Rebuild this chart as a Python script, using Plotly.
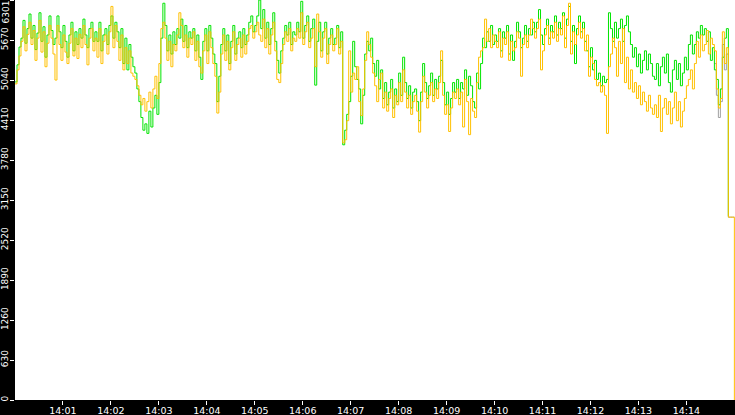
import pandas as pd
import plotly.graph_objects as go

# tick-by-tick quotes, one sample every 2.5 s from 14:00:00
START = "2024-01-01 14:00:00"
STEP = "2500ms"

GREEN = [
    5010, 5280, 5560, 5700, 5980, 5620, 5850, 6080, 5700, 5900, 5520, 5780, 6100, 5650, 5880, 5400, 5750, 6050, 5820, 5600,
    5700, 6050, 5800, 5550, 5900, 5650, 5400, 5750, 5950, 5500, 5800, 5600, 5850, 5700, 6000, 5750, 5550, 5850, 5950, 5650,
    5800, 5650, 5950, 5500, 5750, 5850, 5600, 5900, 6050, 5700, 5950, 5800, 5550, 5850, 5300, 5700, 5200, 5600, 5400, 5250,
    5150, 4900, 4700, 4450, 4250, 4350, 4200, 4550, 4300, 4600, 4800, 4500, 5000, 5700, 6250, 5900, 5500, 5750, 5450, 5800,
    5600, 5850, 5700, 6000, 5650, 5900, 5550, 5800, 5700, 5850, 5500, 5750, 5400, 5050, 5650, 5850, 5500, 5900, 5700, 5450,
    5300, 4700, 5100, 5600, 5850, 5500, 5750, 5300, 5650, 5900, 5450, 5700, 5800, 5550, 5850, 5600, 5750, 5950, 6050, 5800,
    5900, 6050, 6300, 5850, 6150, 5700, 5950, 5600, 5850, 6100, 5650, 5350, 5150, 5500, 5700, 5900, 5750, 5950, 5600, 5800,
    5750, 5950, 5800, 6280, 5700, 5900, 6050, 5650, 5850, 6000, 4960, 5650, 5950, 5500, 5800, 5950, 5450, 5700, 5850, 5600,
    5700, 5900, 5550, 5800, 4020, 4250, 4500, 4700, 5100, 5650, 5250, 5050, 4900, 4350, 4800, 5450, 5650, 5500, 5700, 5300,
    5100, 5350, 4900, 5200, 4750, 5000, 4650, 4850, 5050, 4600, 4900, 4700, 5150, 4800, 5400, 5000, 4750, 4950, 4600, 4850,
    4900, 4700, 4400, 4850, 5300, 5000, 4750, 4950, 5150, 4800, 5050, 4900, 5100, 5350, 5000, 4650, 4850, 4500, 4750, 5000,
    4850, 5050, 4750, 5000, 4900, 5200, 4800, 5100, 4950, 4700, 4600, 5150, 4900, 5300, 5700, 5550, 5800, 5650, 5900, 5600,
    5750, 5650, 5850, 5500, 5800, 5700, 5900, 5450, 5750, 5350, 5650, 5950, 5800, 5550, 5700, 5900, 5650, 5850, 5750, 5950,
    5800, 5950, 6150, 5750, 5600, 5850, 6000, 5700, 5900, 5800, 6050, 5750, 5950, 5850, 6100, 5700, 6000, 6200, 5650, 5900,
    5300, 5850, 6050, 5800, 5950, 5650, 5500, 5250, 5550, 5200, 5350, 5050, 5150, 4950, 5100, 5000, 5050, 6100, 5850, 5650,
    5950, 5700, 5850, 6000, 5650, 5900, 6050, 5800, 5600, 5400, 5550, 5250, 5450, 5150, 5350, 5500, 5200, 5450, 5300, 5100,
    5050, 5300, 4950, 5250, 5400, 5150, 5450, 5000, 4850, 5200, 5350, 5050, 5300, 4950, 5150, 5400, 5200, 5600, 5750, 5450,
    5600, 5800, 5700, 5900, 5750, 5850, 5650, 5800, 5350, 5550, 5200, 5050, 4650, 4900, 5400, 5700, 5850, 2900,
]

YELLOW = [
    4980, 5200, 5420, 5650, 5880, 5500, 5760, 5950, 5600, 5820, 5350, 5700, 5980, 5480, 5800, 5250, 5620, 5900, 5700, 5450,
    5040, 5900, 5600, 5350, 5750, 5480, 5300, 5620, 5850, 5420, 5700, 5380, 5760, 5550, 5900, 5600, 5280, 5700, 5850, 5500,
    5700, 5400, 5850, 5300, 5650, 5750, 5450, 5800, 6200, 5550, 5900, 5650, 5350, 5750, 5200, 5550, 5300, 5500, 5150, 5100,
    5050, 4950, 4800, 4650, 4750, 4550, 4700, 4850, 4600, 4900, 5100, 4750, 5300, 5850, 5950, 5700, 5350, 5650, 5250, 5600,
    5500, 5750, 6100, 5900, 5550, 5750, 5400, 5700, 5600, 5800, 5350, 5650, 5250, 5150, 5500, 5750, 5300, 5800, 5550, 5300,
    5100, 4520, 4850, 5450, 5750, 5350, 5650, 5200, 5550, 5800, 5350, 5600, 5700, 5400, 5750, 5450, 5650, 5850, 5900, 5700,
    5800, 5950, 5750, 5650, 6000, 5550, 5850, 5450, 5750, 5950, 5500, 5050, 5000, 5300, 5600, 5800, 5650, 5850, 5500, 5700,
    5650, 5850, 5700, 6100, 5600, 5800, 5950, 5550, 5700, 5850, 5250, 6080, 5800, 5400, 5700, 5850, 5300, 5600, 5750, 5500,
    5600, 5850, 5450, 5650, 4050, 4100, 4400, 5500, 4850, 5150, 5050, 5250, 4700, 4480, 4900, 5350, 5800, 5600, 5400, 5150,
    4950, 4700, 5050, 5150, 4600, 4850, 4550, 4750, 4900, 4450, 4800, 4650, 5000, 4700, 5200, 4850, 4600, 4800, 4500, 4700,
    4800, 4550, 4220, 4700, 5100, 4850, 4600, 4800, 5000, 4700, 4900, 4750, 5000, 5500, 4800, 4500, 4650, 4230, 4600, 4850,
    4750, 4900, 4650, 4850, 4300, 5050, 4700, 4180, 4750, 4550, 4450, 5000, 5400, 5500, 5550, 6000, 5650, 5850, 5550, 5750,
    5650, 5550, 5800, 5400, 5700, 5600, 5800, 5350, 5650, 5500, 5550, 5800, 5700, 5100, 5600, 5750, 5550, 5750, 6000, 5850,
    5700, 5850, 6000, 5200, 5500, 5750, 5900, 5600, 5800, 5700, 5950, 5650, 5850, 5750, 6050, 5550, 5900, 6250, 5450, 5800,
    5600, 5750, 5950, 5700, 5850, 5500, 5750, 5100, 5400, 5300, 5050, 4950, 5000, 4850, 4950, 4800, 4200, 5250, 5450, 5700,
    5550, 5100, 5650, 5300, 5850, 5000, 5400, 4900, 5200, 4850, 5000, 4750, 4950, 4650, 4850, 4700, 4550, 4800, 4600, 4500,
    4650, 4450, 4800, 4230, 4600, 4750, 4500, 4700, 4350, 4600, 4850, 4400, 4700, 4300, 4550, 4750, 4950, 5050, 5200, 4900,
    5300, 5650, 5400, 5750, 5500, 5600, 5820, 5450, 5700, 5600, 5500, 4900, 4600, 4750, 5800, 5300, 5550, 2880, 2880, 2880, 0,
]

# last-trade line, only shows through at the very end
GRAY_START = 350
GRAY = [5300, 4800, 4450, 4700, 5600, 5200, 5450, 2880, 2880, 2880, 2880]

Y_TICKS = [0, 630, 1260, 1890, 2520, 3150, 3780, 4410, 5040, 5670, 6301]
X_TICKS = ["14:01", "14:02", "14:03", "14:04", "14:05", "14:06", "14:07",
           "14:08", "14:09", "14:10", "14:11", "14:12", "14:13", "14:14"]

times = pd.date_range(START, periods=len(YELLOW), freq=STEP)
day = START[:10]

fig = go.Figure()
fig.add_trace(go.Scatter(x=times[GRAY_START:GRAY_START + len(GRAY)], y=GRAY, mode="lines",
                         line=dict(color="#a0a0a0", width=1, shape="hv")))
fig.add_trace(go.Scatter(x=times[:len(GREEN)], y=GREEN, mode="lines",
                         line=dict(color="#00e400", width=1, shape="hv")))
fig.add_trace(go.Scatter(x=times, y=YELLOW, mode="lines",
                         line=dict(color="#ffc000", width=1, shape="hv")))

fig.update_xaxes(
    range=[pd.Timestamp(START), pd.Timestamp(START) + pd.Timedelta(seconds=900.8)],
    tickvals=[pd.Timestamp(f"{day} {t}:00") for t in X_TICKS],
    ticktext=X_TICKS,
    ticks="outside", ticklen=4, tickcolor="white", tickwidth=1,
    tickfont=dict(color="white", size=9.5, family="DejaVu Sans"),
    showgrid=False, zeroline=False, showline=False, automargin=False,
    ticklabelstandoff=-2,
)
fig.update_yaxes(
    range=[0, 6301],
    tickvals=Y_TICKS,
    ticktext=[str(v) for v in Y_TICKS[:-1]] + [""],
    tickangle=-90,
    ticks="outside", ticklen=4, tickcolor="white", tickwidth=1,
    tickfont=dict(color="white", size=9, family="DejaVu Sans"),
    showgrid=False, zeroline=False, showline=False, automargin=False,
    ticklabelstandoff=-2,
)
# top label sits below its tick so it stays on the page
fig.add_annotation(text=str(Y_TICKS[-1]), xref="paper", yref="paper", x=0, y=1,
                   xanchor="right", yanchor="top", xshift=-4, textangle=-90, showarrow=False,
                   borderpad=0, font=dict(color="white", size=9, family="DejaVu Sans"))

fig.update_layout(
    width=735, height=415,
    margin=dict(l=15, r=0, t=0, b=15),
    paper_bgcolor="black", plot_bgcolor="white",
    showlegend=False, hovermode=False,
)
fig.write_html("out.html", config={"displayModeBar": False},
               post_script="document.body.style.margin='0';document.body.style.overflow='hidden';")
